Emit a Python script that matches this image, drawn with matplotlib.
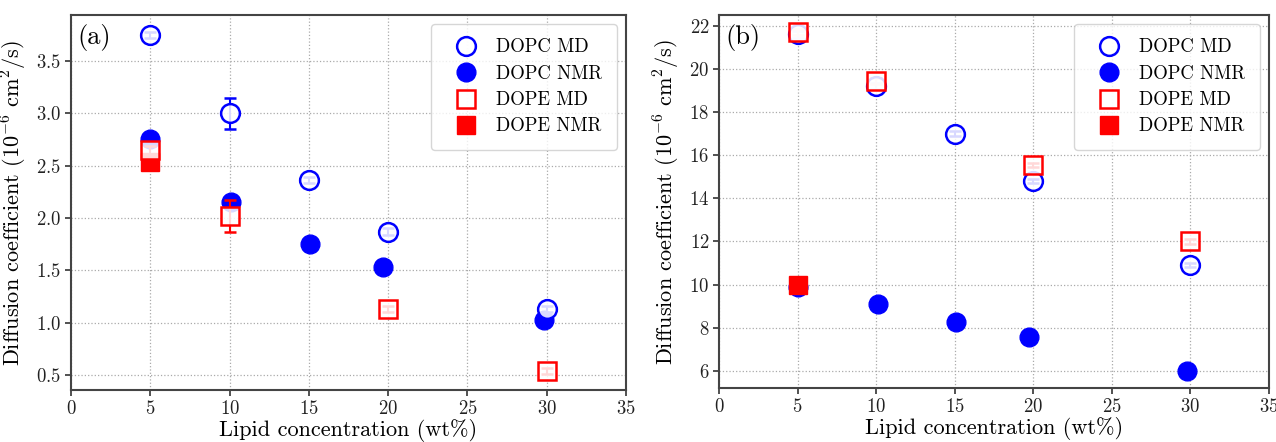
import matplotlib
matplotlib.use("Agg")
import matplotlib.pyplot as plt

plt.rcParams['font.family'] = 'serif'
plt.rcParams['font.serif'] = ['cmr10', 'DejaVu Serif']
plt.rcParams['mathtext.fontset'] = 'cm'
plt.rcParams['axes.formatter.use_mathtext'] = True

# Panel (a)
a_dopc_md_x = [5, 10, 15, 20, 30]
a_dopc_md_y = [3.75, 3.00, 2.36, 1.87, 1.13]
a_dopc_md_e = [0.03, 0.15, 0.03, 0.03, 0.03]
a_dopc_nmr_x = [5, 10.1, 15.1, 19.7, 29.8]
a_dopc_nmr_y = [2.75, 2.15, 1.75, 1.53, 1.02]
a_dopc_nmr_e = [0.03, 0.03, 0.02, 0.02, 0.02]
a_dope_md_x = [5, 10, 20, 30]
a_dope_md_y = [2.65, 2.02, 1.13, 0.54]
a_dope_md_e = [0.04, 0.15, 0.03, 0.03]
a_dope_nmr_x = [5]
a_dope_nmr_y = [2.53]
a_dope_nmr_e = [0.02]

# Panel (b)
b_dopc_md_x = [5, 10, 15, 20, 30]
b_dopc_md_y = [21.6, 19.2, 17.0, 14.8, 10.9]
b_dopc_md_e = [0.15, 0.15, 0.1, 0.1, 0.1]
b_dopc_nmr_x = [5, 10.1, 15.1, 19.7, 29.8]
b_dopc_nmr_y = [9.9, 9.1, 8.25, 7.55, 6.0]
b_dopc_nmr_e = [0.1, 0.15, 0.15, 0.1, 0.1]
b_dope_md_x = [5, 10, 20, 30]
b_dope_md_y = [21.7, 19.45, 15.55, 12.0]
b_dope_md_e = [0.15, 0.15, 0.1, 0.1]
b_dope_nmr_x = [5]
b_dope_nmr_y = [10.0]
b_dope_nmr_e = [0.1]

labels = ['DOPC MD', 'DOPC NMR', 'DOPE MD', 'DOPE NMR']
xticks = [0, 5, 10, 15, 20, 25, 30, 35]
a_yticks = [0.5, 1.0, 1.5, 2.0, 2.5, 3.0, 3.5]
b_yticks = [6, 8, 10, 12, 14, 16, 18, 20, 22]

fig = plt.figure(figsize=(12.76, 4.42), dpi=100)
axa = fig.add_axes([71/1276, 52/442, 555/1276, 375/442])
axb = fig.add_axes([719/1276, 54/442, 550/1276, 373/442])

def draw(ax, series, ylim, yticks, tag):
    (x1, y1, e1), (x2, y2, e2), (x3, y3, e3), (x4, y4, e4) = series
    ms = 13.5
    h2 = ax.errorbar(x2, y2, yerr=e2, fmt='o', color='blue', ms=ms, mfc='blue',
                     mec='blue', capsize=4, elinewidth=1.5, capthick=1.5, zorder=3)
    h4 = ax.errorbar(x4, y4, yerr=e4, fmt='s', color='red', ms=ms - 0.5, mfc='red',
                     mec='red', capsize=4, elinewidth=1.5, capthick=1.5, zorder=3)
    h1 = ax.errorbar(x1, y1, yerr=e1, fmt='o', color='blue', ms=ms,
                     mfc=(1, 1, 1, 0.85), mec='blue', mew=1.8, capsize=4,
                     elinewidth=1.5, capthick=1.5, zorder=4)
    h3 = ax.errorbar(x3, y3, yerr=e3, fmt='s', color='red', ms=ms - 0.5,
                     mfc=(1, 1, 1, 0.85), mec='red', mew=1.8, capsize=4,
                     elinewidth=1.5, capthick=1.5, zorder=4)
    ax.set_xlim(0, 35)
    ax.set_ylim(*ylim)
    ax.set_xticks(xticks)
    ax.set_yticks(yticks)
    ax.grid(True, linestyle=':', color='#aaaaaa', linewidth=0.9)
    ax.set_axisbelow(True)
    ax.tick_params(labelsize=13.5, direction='out', length=4, width=1.2,
                   colors='#333333', pad=3)
    for lab in ax.get_xticklabels() + ax.get_yticklabels():
        lab.set_color('#222222')
    for s in ax.spines.values():
        s.set_color('#444444')
        s.set_linewidth(1.5)
    ax.set_xlabel('Lipid concentration (wt%)', fontsize=16, labelpad=1)
    ax.set_ylabel(r'Diffusion coefficient $(10^{-6}\ \mathrm{cm}^2/\mathrm{s})$',
                  fontsize=16, labelpad=5)
    ax.text(0.012, 0.975, tag, transform=ax.transAxes, fontsize=19, va='top', ha='left')
    ax.legend([h1[0], h2[0], h3[0], h4[0]], labels, loc='upper right', fontsize=13.5,
              handletextpad=0.55, borderpad=0.75, labelspacing=0.45,
              handlelength=2.2, markerscale=1.0, framealpha=0.8,
              borderaxespad=0.5)

draw(axa, [(a_dopc_md_x, a_dopc_md_y, a_dopc_md_e),
           (a_dopc_nmr_x, a_dopc_nmr_y, a_dopc_nmr_e),
           (a_dope_md_x, a_dope_md_y, a_dope_md_e),
           (a_dope_nmr_x, a_dope_nmr_y, a_dope_nmr_e)],
     (0.355, 3.94), a_yticks, '(a)')
draw(axb, [(b_dopc_md_x, b_dopc_md_y, b_dopc_md_e),
           (b_dopc_nmr_x, b_dopc_nmr_y, b_dopc_nmr_e),
           (b_dope_md_x, b_dope_md_y, b_dope_md_e),
           (b_dope_nmr_x, b_dope_nmr_y, b_dope_nmr_e)],
     (5.2, 22.5), b_yticks, '(b)')

fig.savefig('out.png', dpi=100)
